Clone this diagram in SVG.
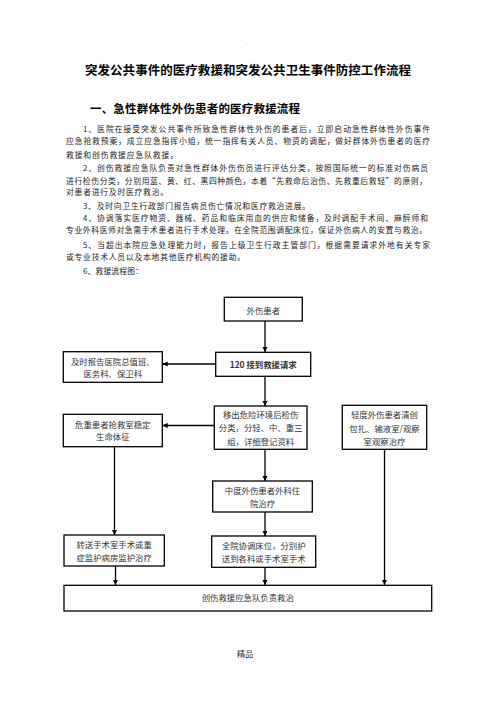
<svg xmlns="http://www.w3.org/2000/svg" width="496" height="702" viewBox="0 0 496 702">
<style>
.p{font-family:"Noto Sans CJK SC","Liberation Sans",sans-serif;font-size:7.8px;fill:#222}
.h{font-family:"Noto Sans CJK SC","Liberation Sans",sans-serif;font-weight:bold;fill:#000}
.b{fill:#fff;stroke:#000;stroke-width:1.3}
.t{font-family:"Noto Sans CJK SC","Liberation Sans",sans-serif;font-size:8.4px;fill:#333;text-anchor:middle}
.c{stroke:#000;stroke-width:1.3;fill:none;marker-end:url(#ah)}
</style>
<defs>
<marker id="ah" viewBox="0 0 10 10" refX="10" refY="5" markerWidth="4" markerHeight="4" orient="auto" markerUnits="strokeWidth">
<path d="M0,0 L10,5 L0,10 z" fill="#000"/>
</marker>
</defs>
<rect width="496" height="702" fill="#fff"/>
<text x="246" y="45" font-family="Liberation Sans,sans-serif" font-size="6" fill="#666" text-anchor="middle">.</text>
<text class="h" x="85" y="74.5" font-size="12.5" textLength="326">突发公共事件的医疗救援和突发公共卫生事件防控工作流程</text>
<text class="h" x="90" y="113" font-size="11.5" textLength="210">一、急性群体性外伤患者的医疗救援流程</text>
<g id="paragraphs">
<text class="p" x="83" y="131.7" textLength="347">1、医院在接受突发公共事件所致急性群体性外伤的患者后，立即启动急性群体性外伤事件</text>
<text class="p" x="66" y="144.2" textLength="364">应急抢救预案，成立应急指挥小组，统一指挥有关人员、物资的调配，做好群体外伤患者的医疗</text>
<text class="p" x="66" y="157.7" textLength="112">救援和创伤救援应急队救援。</text>
<text class="p" x="83" y="170.7" textLength="345">2、创伤救援应急队负责对急性群体外伤伤员进行评估分类，按照国际统一的标准对伤病员</text>
<text class="p" x="66" y="183.7" textLength="361">进行检伤分类，分别用蓝、黄、红、黑四种颜色，本着“先救命后治伤、先救重后救轻”的原则，</text>
<text class="p" x="66" y="195.2" textLength="102">对患者进行及时医疗救治。</text>
<text class="p" x="83" y="209.2" textLength="227">3、及时向卫生行政部门报告病员伤亡情况和医疗救治进展。</text>
<text class="p" x="83" y="221.2" textLength="345">4、协调落实医疗物资、器械、药品和临床用血的供应和储备，及时调配手术间、麻醉师和</text>
<text class="p" x="66" y="232.7" textLength="361">专业外科医师对急需手术患者进行手术处理。在全院范围调配床位，保证外伤病人的安置与救治。</text>
<text class="p" x="83" y="247.7" textLength="347">5、当超出本院应急处理能力时，报告上级卫生行政主管部门，根据需要请求外地有关专家</text>
<text class="p" x="66" y="260.2" textLength="179">或专业技术人员以及本地其他医疗机构的援助。</text>
<text class="p" x="83" y="273.7" textLength="60">6、救援流程图：</text>
</g>
<g id="connectors">
<line class="c" x1="265" y1="321" x2="265" y2="352"/>
<line class="c" x1="216" y1="364" x2="162.5" y2="364"/>
<line class="c" x1="265" y1="376" x2="265" y2="406"/>
<line class="c" x1="214" y1="425.5" x2="162.5" y2="425.5"/>
<line class="c" x1="265" y1="449" x2="265" y2="481"/>
<line class="c" x1="114.5" y1="446.5" x2="114.5" y2="535"/>
<line class="c" x1="265" y1="512" x2="265" y2="536"/>
<line class="c" x1="115.5" y1="566" x2="115.5" y2="585"/>
<line class="c" x1="265" y1="567" x2="265" y2="585"/>
<line class="c" x1="384.5" y1="449" x2="384.5" y2="585"/>
</g>
<g id="n1"><rect class="b" x="224.3" y="297.3" width="78" height="23.7"/><text class="t" x="263.3" y="313.7">外伤患者</text></g>
<g id="n2"><rect class="b" x="215.7" y="352.3" width="95" height="24"/><text class="t" x="263.2" y="368" font-weight="600" fill="#222">120 接到救援请求</text></g>
<g id="n3"><rect class="b" x="63.3" y="351.7" width="99" height="30.6"/><text class="t" x="112.8" y="365.3">及时报告医院总值班、</text><text class="t" x="112.8" y="377">医务科、保卫科</text></g>
<g id="n4"><rect class="b" x="214.3" y="406" width="92.7" height="43.3"/><text class="t" x="260.7" y="418">移出危险环境后检伤</text><text class="t" x="260.7" y="431.3">分类，分轻、中、重三</text><text class="t" x="260.7" y="444.7">组，详细登记资料</text></g>
<g id="n5"><rect class="b" x="63.3" y="414.3" width="99" height="32.4"/><text class="t" x="112.8" y="428">危重患者抢救室稳定</text><text class="t" x="112.8" y="440.3">生命体征</text></g>
<g id="n6"><rect class="b" x="342.3" y="405.3" width="84.4" height="44"/><text class="t" x="384.5" y="418">轻度外伤患者清创</text><text class="t" x="384.5" y="432">包扎、输液室/观察</text><text class="t" x="384.5" y="444.7">室观察治疗</text></g>
<g id="n7"><rect class="b" x="212.7" y="481" width="99.6" height="31"/><text class="t" x="262.5" y="494">中度外伤患者外科住</text><text class="t" x="262.5" y="507.3">院治疗</text></g>
<g id="n8"><rect class="b" x="64" y="535" width="100.3" height="31"/><text class="t" x="114.2" y="548">转送手术室手术或重</text><text class="t" x="114.2" y="561.3">症监护病房监护治疗</text></g>
<g id="n9"><rect class="b" x="211.7" y="536" width="104" height="31.3"/><text class="t" x="263.7" y="548.7">全院协调床位，分别护</text><text class="t" x="263.7" y="562">送到各科或手术室手术</text></g>
<g id="n10"><rect class="b" x="64" y="585.3" width="367.7" height="25.7"/><text class="t" x="247.8" y="601.3">创伤救援应急队负责救治</text></g>
<text class="t" x="245" y="657" font-size="7.6" fill="#444">精品</text>
</svg>
